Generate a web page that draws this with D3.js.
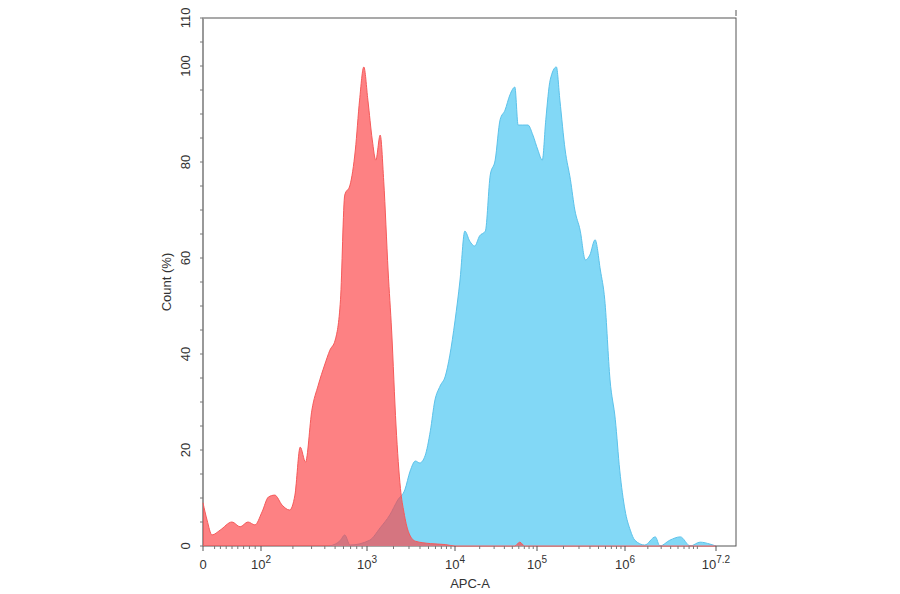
<!DOCTYPE html>
<html><head><meta charset="utf-8">
<script src="https://cdn.jsdelivr.net/npm/d3@7"></script>
<style>body{margin:0;background:#fff}svg{font-family:"Liberation Sans",Arial,sans-serif}</style>
</head><body>
<script>
// x values are in display decades (0 = zero, 2 = 10^2 ...), y is count %
const redX = [0,0.14,0.31,0.59,1.0,1.28,1.55,1.79,2.01,2.07,2.13,2.20,2.27,2.32,2.37,2.42,2.48,2.54,2.60,2.65,2.70,2.75,2.79,2.84,2.89,2.93,2.97,3.01,3.06,3.10,3.15,3.19,3.24,3.28,3.33,3.38,3.42,3.47,3.55,3.72,3.89,4.0,4.73,4.79,4.85,7.2];
const redY = [9,5.4,2.3,3.3,5,4,5,4.4,7.1,10.2,10.6,8.5,7.5,10.6,20.6,17.5,28.3,33.5,37.7,40.8,42.9,51.3,73.1,75.2,82.5,92.9,99.8,92.9,84.6,80.4,85.6,76,57.3,44.8,25,12,7,3,1,0.5,0.3,0,0,0.8,0,0];
const blueX = [2.65,2.75,2.79,2.84,3.03,3.15,3.26,3.35,3.43,3.49,3.55,3.60,3.66,3.72,3.77,3.83,3.89,3.94,4.0,4.06,4.12,4.18,4.24,4.30,4.37,4.43,4.49,4.55,4.61,4.67,4.73,4.77,4.82,4.89,4.95,5.01,5.06,5.10,5.15,5.22,5.26,5.32,5.38,5.43,5.49,5.55,5.60,5.66,5.72,5.77,5.83,5.89,5.94,6.0,6.07,6.13,6.26,6.40,6.46,6.59,6.73,6.86,6.99,7.12,7.2];
const blueY = [0,1.2,2.3,0.2,1.2,3.8,6.5,9.6,11.7,15.6,17.7,17.3,18.8,24,30.2,33.3,35.4,39.6,46.9,55.2,65.6,63.5,62.5,64.6,65.6,77.3,80.4,88.8,90.8,94,95.6,87.7,87.7,87.7,85.6,82.5,80.4,88.8,97.1,99.8,92.9,82.5,76.3,70,65.8,59.6,60.6,63.8,57.5,51.3,34.6,26.3,15.8,7.5,3.3,1.2,0.2,1.9,0,1.2,1.9,0,0.8,0.4,0];
const xTicks = [0,2,3,4,5,6,7.2];
const xTickLabels = [["0",""],["10","2"],["10","3"],["10","4"],["10","5"],["10","6"],["10","7.2"]];
const yTicks = [0,20,40,60,80,100,110];

const svg = d3.select('body').append('svg').attr('width',900).attr('height',594);

// biexponential-like display: linear near zero, log above
let x = d3.scaleLinear().domain([0,2,3,4,5,6,7.2]).range([203,261,367,455,537,625,716]);
let y = d3.scaleLinear().domain([0,110]).range([546,18]);

// frame
svg.append('rect').attr('x',203).attr('y',18).attr('width',533).attr('height',528)
    .attr('fill','none').attr('stroke','#555').attr('stroke-width',1);
svg.append('line').attr('x1',203).attr('x2',203).attr('y1',18).attr('y2',546).attr('stroke','#999').attr('stroke-width',2);
svg.append('line').attr('x1',736).attr('x2',736).attr('y1',10).attr('y2',16).attr('stroke','#555');

function area(xs, ys) {
    return d3.area().x((d,i) => x(xs[i])).y0(y(0)).y1((d,i) => y(ys[i])).curve(d3.curveMonotoneX)(xs);
}
function line(xs, ys) {
    return d3.line().x((d,i) => x(xs[i])).y((d,i) => y(ys[i])).curve(d3.curveMonotoneX)(xs);
}

svg.append('path').attr('d', area(blueX, blueY)).attr('fill','#82d8f6');
svg.append('path').attr('d', line(blueX, blueY)).attr('fill','none').attr('stroke','#5cc2ea').attr('stroke-width',1);
svg.append('path').attr('d', area(redX, redY)).attr('fill','rgba(252,70,72,0.68)');
svg.append('path').attr('d', line(redX, redY)).attr('fill','none').attr('stroke','#f55a5a').attr('stroke-width',1);

// x axis
let xa = svg.append('g');
// minor ticks
let minor = [];
[[0,2],[2,3],[3,4],[4,5],[5,6],[6,7.2]].forEach(([a,b]) => {
    for (let k = 2; k < 10; k++) {
        let v = a === 0 ? k*0.2 : a + Math.log10(k);
        if (v < b) minor.push(v);
    }
});
xa.selectAll('line.mn').data(minor).enter().append('line')
    .attr('x1',d=>x(d)).attr('x2',d=>x(d)).attr('y1',546).attr('y2',549).attr('stroke','#777');
xa.selectAll('line.mj').data(xTicks).enter().append('line')
    .attr('x1',d=>x(d)).attr('x2',d=>x(d)).attr('y1',546).attr('y2',551).attr('stroke','#555');
let xt = xa.selectAll('text').data(xTicks).enter().append('text')
    .attr('x',d=>x(d)).attr('y',569).attr('text-anchor','middle')
    .attr('font-size',13).attr('fill','#333');
xt.append('tspan').text((d,i)=>xTickLabels[i][0]);
xt.append('tspan').attr('dy',-6).attr('font-size',10).text((d,i)=>xTickLabels[i][1]);

// y axis
let ya = svg.append('g');
let yMinor = d3.range(0,111,5);
ya.selectAll('line.mn').data(yMinor).enter().append('line')
    .attr('x1',200).attr('x2',203).attr('y1',d=>y(d)).attr('y2',d=>y(d)).attr('stroke','#777');
ya.selectAll('text').data(yTicks).enter().append('text')
    .attr('transform',d=>'translate(190,' + y(d) + ') rotate(-90)')
    .attr('text-anchor','middle').attr('font-size',13).attr('fill','#333').text(d=>d);

svg.append('text').attr('transform','translate(171,282) rotate(-90)')
    .attr('text-anchor','middle').attr('font-size',13).attr('fill','#333').text('Count (%)');
svg.append('text').attr('x',470).attr('y',588).attr('text-anchor','middle')
    .attr('font-size',13).attr('fill','#333').text('APC-A');
</script>
</body></html>
